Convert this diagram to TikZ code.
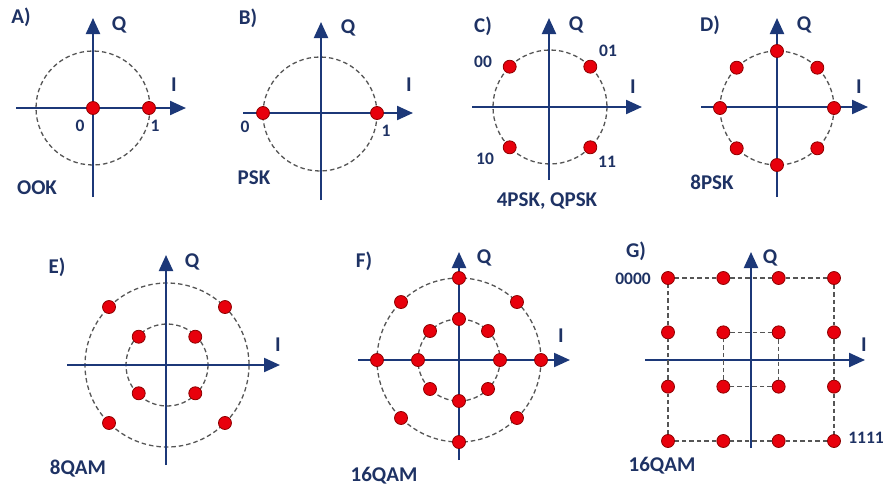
\documentclass[tikz,border=0pt]{standalone}
\usepackage{fontspec}
\setmainfont{Carlito}
\usetikzlibrary{arrows.meta,positioning}
\definecolor{axisblue}{RGB}{28,56,120}
\definecolor{textblue}{RGB}{30,50,100}
\definecolor{dotred}{RGB}{232,0,12}
\definecolor{dotedge}{RGB}{140,0,0}
\definecolor{ringgray}{RGB}{85,85,85}
\tikzset{
  axis/.style={line width=2.2pt,draw=axisblue,-{Triangle[length=16pt,width=14pt]}},
  dot/.style={circle,fill=dotred,draw=dotedge,line width=0.8pt,inner sep=0pt,minimum size=13pt},
  ring/.style={draw=ringgray,line width=1.3pt,dash pattern=on 4.5pt off 3pt},
  lbl/.style={text=textblue,font=\fontsize{21}{25}\selectfont\bfseries,inner sep=0pt},
  bits/.style={text=textblue,font=\fontsize{17.5}{21}\selectfont\bfseries,inner sep=0pt}
}
\begin{document}
\begin{tikzpicture}[x=1pt,y=-1pt]
  \useasboundingbox (0,0) rectangle (890,488);

  % Panel A: OOK
  \draw[ring] (93,108) circle[radius=57];
  \coordinate (Aw) at (16,108);  \coordinate (Ae) at (186,108);
  \coordinate (As) at (93,197);  \coordinate (An) at (93,18);
  \draw[axis] (Aw) -- (Ae);
  \draw[axis] (As) -- (An);
  \node[dot] (A0) at (93,108) {};
  \node[dot] (A1) at (149,108) {};
  \node[lbl] (Atitle) at (21,17) {A)};
  \node[lbl] (AQ) at (119,25) {Q};
  \node[lbl] (AI) at (174,85) {I};
  \node[bits] (Abit0) at (80,126) {0};
  \node[bits] (Abit1) at (155,126) {1};
  \node[lbl] (Aname) at (37,188) {OOK};

  % Panel B: PSK
  \draw[ring] (320,114) circle[radius=57];
  \coordinate (Bw) at (243,113);  \coordinate (Be) at (413,113);
  \coordinate (Bs) at (321,200);  \coordinate (Bn) at (321,22);
  \draw[axis] (Bw) -- (Be);
  \draw[axis] (Bs) -- (Bn);
  \node[dot] (B0) at (263,113) {};
  \node[dot] (B1) at (377,113) {};
  \node[lbl] (Btitle) at (248,18) {B)};
  \node[lbl] (BQ) at (348,28) {Q};
  \node[lbl] (BI) at (409,85) {I};
  \node[bits] (Bbit0) at (245,127) {0};
  \node[bits] (Bbit1) at (386,131) {1};
  \node[lbl] (Bname) at (254,178) {PSK};

  % Panel C: 4PSK, QPSK
  \draw[ring] (550,107) circle[radius=57];
  \coordinate (Cw) at (472,107);  \coordinate (Ce) at (642,107);
  \coordinate (Cs) at (549,180);  \coordinate (Cn) at (549,18);
  \draw[axis] (Cw) -- (Ce);
  \draw[axis] (Cs) -- (Cn);
  \foreach \a in {45,135,225,315}
    \node[dot] (C\a) at ([shift={(\a:57)}]550,107) {};
  \node[lbl] (Ctitle) at (483,26) {C)};
  \node[lbl] (CQ) at (576,25) {Q};
  \node[lbl] (CI) at (633,87) {I};
  \node[bits] (C00) at (483,62) {00};
  \node[bits] (C01) at (608,51) {01};
  \node[bits] (C10) at (485,159) {10};
  \node[bits] (C11) at (607,162) {11};
  \node[lbl] (Cname) at (547,201) {4PSK, QPSK};

  % Panel D: 8PSK
  \draw[ring] (777,108) circle[radius=57];
  \coordinate (Dw) at (701,107);  \coordinate (De) at (868,107);
  \coordinate (Ds) at (777,197);  \coordinate (Dn) at (777,18);
  \draw[axis] (Dw) -- (De);
  \draw[axis] (Ds) -- (Dn);
  \foreach \a in {0,45,...,315}
    \node[dot] (D\a) at ([shift={(\a:57)}]777,108) {};
  \node[lbl] (Dtitle) at (710,25) {D)};
  \node[lbl] (DQ) at (804,25) {Q};
  \node[lbl] (DI) at (859,87) {I};
  \node[lbl] (Dname) at (712,182) {8PSK};

  % Panel E: 8QAM
  \draw[ring] (167,365) circle[radius=82];
  \draw[ring] (167,365) circle[radius=41];
  \coordinate (Ew) at (67,365);   \coordinate (Ee) at (280,365);
  \coordinate (Es) at (166,465);  \coordinate (En) at (166,255);
  \draw[axis] (Ew) -- (Ee);
  \draw[axis] (Es) -- (En);
  \foreach \a in {45,135,225,315} {
    \node[dot] (Eo\a) at ([shift={(\a:82)}]167,365) {};
    \node[dot] (Ei\a) at ([shift={(\a:40)}]167,365) {};
  }
  \node[lbl] (Etitle) at (57,267) {E)};
  \node[lbl] (EQ) at (192,262) {Q};
  \node[lbl] (EI) at (278,345) {I};
  \node[lbl] (Ename) at (78,469) {8QAM};

  % Panel F: 16QAM, two rings
  \draw[ring] (459,360) circle[radius=82];
  \draw[ring] (459,360) circle[radius=41];
  \coordinate (Fw) at (358,360);  \coordinate (Fe) at (570,360);
  \coordinate (Fs) at (459,460);  \coordinate (Fn) at (459,252);
  \draw[axis] (Fw) -- (Fe);
  \draw[axis] (Fs) -- (Fn);
  \foreach \a in {0,45,...,315} {
    \node[dot] (Fo\a) at ([shift={(\a:82)}]459,360) {};
    \node[dot] (Fi\a) at ([shift={(\a:41)}]459,360) {};
  }
  \node[lbl] (Ftitle) at (364,261) {F)};
  \node[lbl] (FQ) at (484,258) {Q};
  \node[lbl] (FI) at (561,336) {I};
  \node[lbl] (Fname) at (384,476) {16QAM};

  % Panel G: 16QAM, square lattice
  \coordinate (Gw) at (645,360);  \coordinate (Ge) at (865,360);
  \coordinate (Gs) at (751,448);  \coordinate (Gn) at (751,252);
  \draw[axis] (Gw) -- (Ge);
  \draw[axis] (Gs) -- (Gn);
  \foreach \i in {0,...,3}
    \foreach \j in {0,...,3}
      \node[dot] (G\i\j) at ({668+55.33*\i},{278+54.33*\j}) {};
  \draw[ring] (G00) -- (G10) -- (G20) -- (G30) -- (G31) -- (G32) -- (G33)
    -- (G23) -- (G13) -- (G03) -- (G02) -- (G01) -- (G00);
  \draw[ring] (G11) -- (G21) -- (G22) -- (G12) -- (G11);
  \node[lbl] (Gtitle) at (636,251) {G)};
  \node[lbl] (GQ) at (770,258) {Q};
  \node[lbl] (GI) at (864,345) {I};
  \node[bits] (G0000) at (633,279) {0000};
  \node[bits] (G1111) at (866,438) {1111};
  \node[lbl] (Gname) at (662,466) {16QAM};
\end{tikzpicture}
\end{document}
